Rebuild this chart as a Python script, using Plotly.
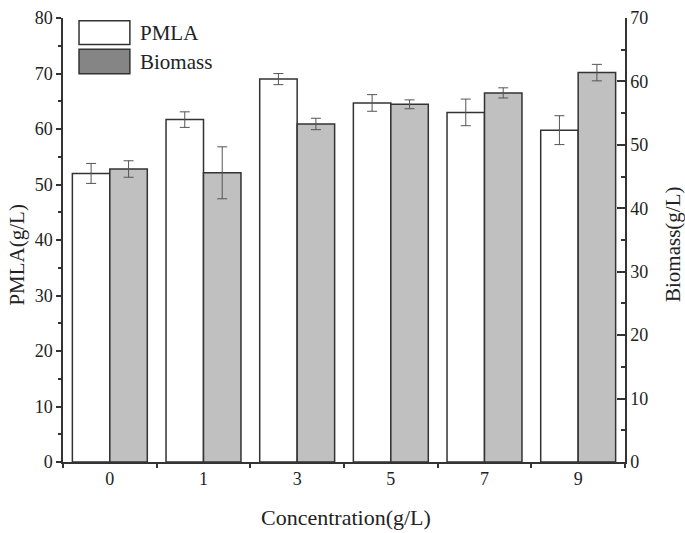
import plotly.graph_objects as go

categories = ["0", "1", "3", "5", "7", "9"]
pmla = [52.0, 61.7, 69.0, 64.7, 63.0, 59.8]
pmla_err = [1.8, 1.4, 1.0, 1.5, 2.4, 2.6]
biomass = [46.2, 45.6, 53.3, 56.4, 58.2, 61.4]
biomass_err = [1.3, 4.1, 0.9, 0.7, 0.8, 1.3]

FONT = "Liberation Serif"
AX = "#333333"

fig = go.Figure()
fig.add_trace(go.Bar(
    x=categories, y=pmla, name="PMLA", offsetgroup="1",
    marker=dict(color="white", line=dict(color=AX, width=1.5)),
    error_y=dict(type="data", array=pmla_err, color="#555555", thickness=1, width=5),
    yaxis="y",
))
fig.add_trace(go.Bar(
    x=categories, y=biomass, name="Biomass", offsetgroup="2",
    marker=dict(color="#c0c0c0", line=dict(color=AX, width=1.5)),
    error_y=dict(type="data", array=biomass_err, color="#555555", thickness=1, width=5),
    yaxis="y2",
))

fig.update_layout(
    width=685, height=533,
    margin=dict(l=63, r=60, t=8, b=71),
    paper_bgcolor="white", plot_bgcolor="white",
    barmode="group", bargap=0.2, bargroupgap=0,
    showlegend=False,
    font=dict(family=FONT, size=18, color="#222222"),
    xaxis=dict(
        type="category", showline=True, linecolor=AX, linewidth=1.5,
        ticks="outside", ticklen=4, tickwidth=1.5, tickcolor=AX,
        tickson="boundaries", showgrid=False, zeroline=False,
        tickfont=dict(family=FONT, size=18),
    ),
    yaxis=dict(
        range=[0, 80.01], tickmode="array", tickvals=[0, 10, 20, 30, 40, 50, 60, 70, 80],
        ticklabeloverflow="allow",
        showline=True, linecolor=AX, linewidth=1.5,
        ticks="outside", ticklen=5, tickwidth=1.5, tickcolor=AX,
        minor=dict(tickvals=[5, 15, 25, 35, 45, 55, 65, 75], ticks="outside", ticklen=3, tickwidth=1.5, tickcolor=AX),
        showgrid=False, zeroline=False, tickfont=dict(family=FONT, size=18),
    ),
    yaxis2=dict(
        range=[0, 70.01], tickmode="array", tickvals=[0, 10, 20, 30, 40, 50, 60, 70],
        ticklabeloverflow="allow",
        overlaying="y", side="right",
        showline=True, linecolor=AX, linewidth=1.5,
        ticks="inside", ticklen=8, tickwidth=1.5, tickcolor=AX,
        minor=dict(tickvals=[5, 15, 25, 35, 45, 55, 65], ticks="inside", ticklen=4, tickwidth=1.5, tickcolor=AX),
        showgrid=False, zeroline=False, tickfont=dict(family=FONT, size=18),
    ),
)

# legend drawn as boxes + text
fig.add_shape(type="rect", xref="paper", yref="paper", x0=0.0285, x1=0.119, y0=0.9405, y1=0.994,
              fillcolor="white", line=dict(color=AX, width=1.5))
fig.add_shape(type="rect", xref="paper", yref="paper", x0=0.0285, x1=0.119, y0=0.8744, y1=0.9295,
              fillcolor="#858585", line=dict(color=AX, width=1.5))
fig.add_annotation(text="PMLA", xref="paper", yref="paper", x=0.1335, y=0.967,
                   xanchor="left", yanchor="middle", showarrow=False,
                   font=dict(family=FONT, size=21, color="#222222"))
fig.add_annotation(text="Biomass", xref="paper", yref="paper", x=0.1335, y=0.902,
                   xanchor="left", yanchor="middle", showarrow=False,
                   font=dict(family=FONT, size=21, color="#222222"))

# axis titles
fig.add_annotation(text="Concentration(g/L)", xref="paper", yref="paper", x=0.5036, y=-0.1256,
                   xanchor="center", yanchor="middle", showarrow=False,
                   font=dict(family=FONT, size=22, color="#222222"))
fig.add_annotation(text="PMLA(g/L)", xref="paper", yref="paper", x=-0.0819, y=0.467,
                   xanchor="center", yanchor="middle", showarrow=False, textangle=-90,
                   font=dict(family=FONT, size=21, color="#222222"))
fig.add_annotation(text="Biomass(g/L)", xref="paper", yref="paper", x=1.0854, y=0.491,
                   xanchor="center", yanchor="middle", showarrow=False, textangle=-90,
                   font=dict(family=FONT, size=21, color="#222222"))

fig.write_html("out.html", config={"displayModeBar": False},
               post_script="document.body.style.margin='0';document.body.style.padding='0';")
